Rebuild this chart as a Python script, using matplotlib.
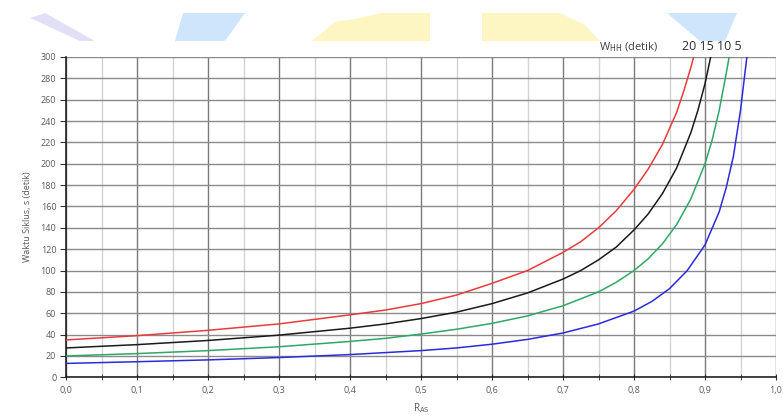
import matplotlib

matplotlib.use("Agg")
import matplotlib.pyplot as plt
from matplotlib.patches import Polygon
from matplotlib.ticker import FuncFormatter, MultipleLocator

# R_AS values and cycle times, one series per W_HH
r_w20 = [0.0, 0.1, 0.2, 0.3, 0.4, 0.45, 0.5, 0.55, 0.6, 0.65, 0.7, 0.725,
         0.75, 0.775, 0.8, 0.82, 0.84, 0.86, 0.87, 0.88, 0.884]
s_w20 = [35, 39, 44, 50, 58.5, 63, 69, 77, 88, 100, 117, 127,
         140, 156, 176, 195, 218, 248, 268, 290, 300]

r_w15 = [0.0, 0.1, 0.2, 0.3, 0.4, 0.45, 0.5, 0.55, 0.6, 0.65, 0.7, 0.725,
         0.75, 0.775, 0.8, 0.82, 0.84, 0.86, 0.88, 0.89, 0.9, 0.908]
s_w15 = [27.5, 30.6, 34.5, 39.5, 46, 50, 55, 61, 69, 79, 92, 100,
         110, 122, 138, 153, 172, 196, 229, 250, 275, 300]

r_w10 = [0.0, 0.1, 0.2, 0.3, 0.4, 0.45, 0.5, 0.55, 0.6, 0.65, 0.7, 0.75,
         0.775, 0.8, 0.82, 0.84, 0.86, 0.88, 0.9, 0.91, 0.92, 0.93, 0.934]
s_w10 = [20, 22.2, 25, 28.6, 33.6, 36.5, 40.5, 45, 50.5, 57.5, 67, 80,
         89, 100, 111, 125, 143, 167, 200, 222, 250, 285, 300]

r_w5 = [0.0, 0.1, 0.2, 0.3, 0.4, 0.5, 0.55, 0.6, 0.65, 0.7, 0.75,
        0.8, 0.825, 0.85, 0.875, 0.9, 0.92, 0.93, 0.94, 0.95, 0.955, 0.959]
s_w5 = [13, 14.6, 16.3, 18.5, 21.3, 25, 27.5, 31, 35.5, 41.5, 50,
        62, 71, 83, 100, 124, 155, 178, 207, 250, 278, 300]

series = [
    ("20", r_w20, s_w20, "#e83c3c"),
    ("15", r_w15, s_w15, "#1a1a1a"),
    ("10", r_w10, s_w10, "#2ea865"),
    ("5", r_w5, s_w5, "#2b2bdc"),
]

fig = plt.figure(figsize=(7.83, 4.19), dpi=100)

# faint watermark shapes along the top edge (pixel coords -> figure fraction)
W, H = 783.0, 419.0


def px(points):
    return [(x / W, 1 - y / H) for x, y in points]


shapes = [
    ([(30, 18), (45, 13), (95, 41), (80, 41)], "#e2e0f6"),
    ([(183, 13), (245, 13), (225, 41), (175, 41)], "#cfe5fb"),
    ([(312, 41), (335, 22), (360, 18), (380, 13), (430, 13), (430, 41)], "#fdf6c3"),
    ([(482, 13), (560, 13), (585, 25), (600, 41), (482, 41)], "#fdf6c3"),
    ([(667, 13), (737, 13), (725, 41), (700, 41)], "#cfe5fb"),
]
for pts, col in shapes:
    fig.add_artist(Polygon(px(pts), closed=True, transform=fig.transFigure,
                           facecolor=col, edgecolor="none", zorder=0))

ax = fig.add_axes([66 / W, 1 - 377.3 / H, (776 - 66) / W, (377.3 - 57) / H])
ax.set_facecolor("none")

ax.set_xlim(0, 1.0)
ax.set_ylim(0, 300)
ax.xaxis.set_major_locator(MultipleLocator(0.1))
ax.xaxis.set_minor_locator(MultipleLocator(0.05))
ax.yaxis.set_major_locator(MultipleLocator(20))
ax.xaxis.set_major_formatter(FuncFormatter(lambda v, _: f"{v:.1f}".replace(".", ",")))

ax.grid(which="major", axis="y", color="#8a8a8a", linewidth=1.0)
ax.grid(which="major", axis="x", color="#7a7a7a", linewidth=1.0)
ax.grid(which="minor", axis="x", color="#d4d4d4", linewidth=1.0)
ax.set_axisbelow(True)

for name, r, s, col in series:
    ax.plot(r, s, color=col, linewidth=1.1, zorder=3)

for side in ("top", "right"):
    ax.spines[side].set_visible(False)
for side in ("left", "bottom"):
    ax.spines[side].set_color("#222222")
    ax.spines[side].set_linewidth(1.2)

ax.tick_params(axis="x", which="both", direction="inout", length=5,
               color="#333333", labelsize=6.5, labelcolor="#5a5a5a", pad=4)
ax.tick_params(axis="y", which="major", direction="out", length=4,
               color="#333333", labelsize=6.5, labelcolor="#5a5a5a", pad=3)
for lab in ax.get_xticklabels() + ax.get_yticklabels():
    lab.set_fontfamily("Open Sans")

ax.set_ylabel("Waktu Siklus, s (detik)", fontsize=6.5, color="#5a5a5a",
              family="Open Sans", labelpad=6)
ax.set_xlabel("R$_{\\mathrm{AS}}$", fontsize=7, color="#5a5a5a",
              family="Open Sans", labelpad=4)

fig.text(599 / W, 1 - 47 / H, "W$_{\\mathrm{HH}}$ (detik)", fontsize=8,
         color="#404040", family="Open Sans", va="center", ha="left")
fig.text(682 / W, 1 - 47 / H, "20 15 10 5", fontsize=9,
         color="#303030", family="Open Sans", va="center", ha="left")

fig.savefig("out.png", dpi=100)
